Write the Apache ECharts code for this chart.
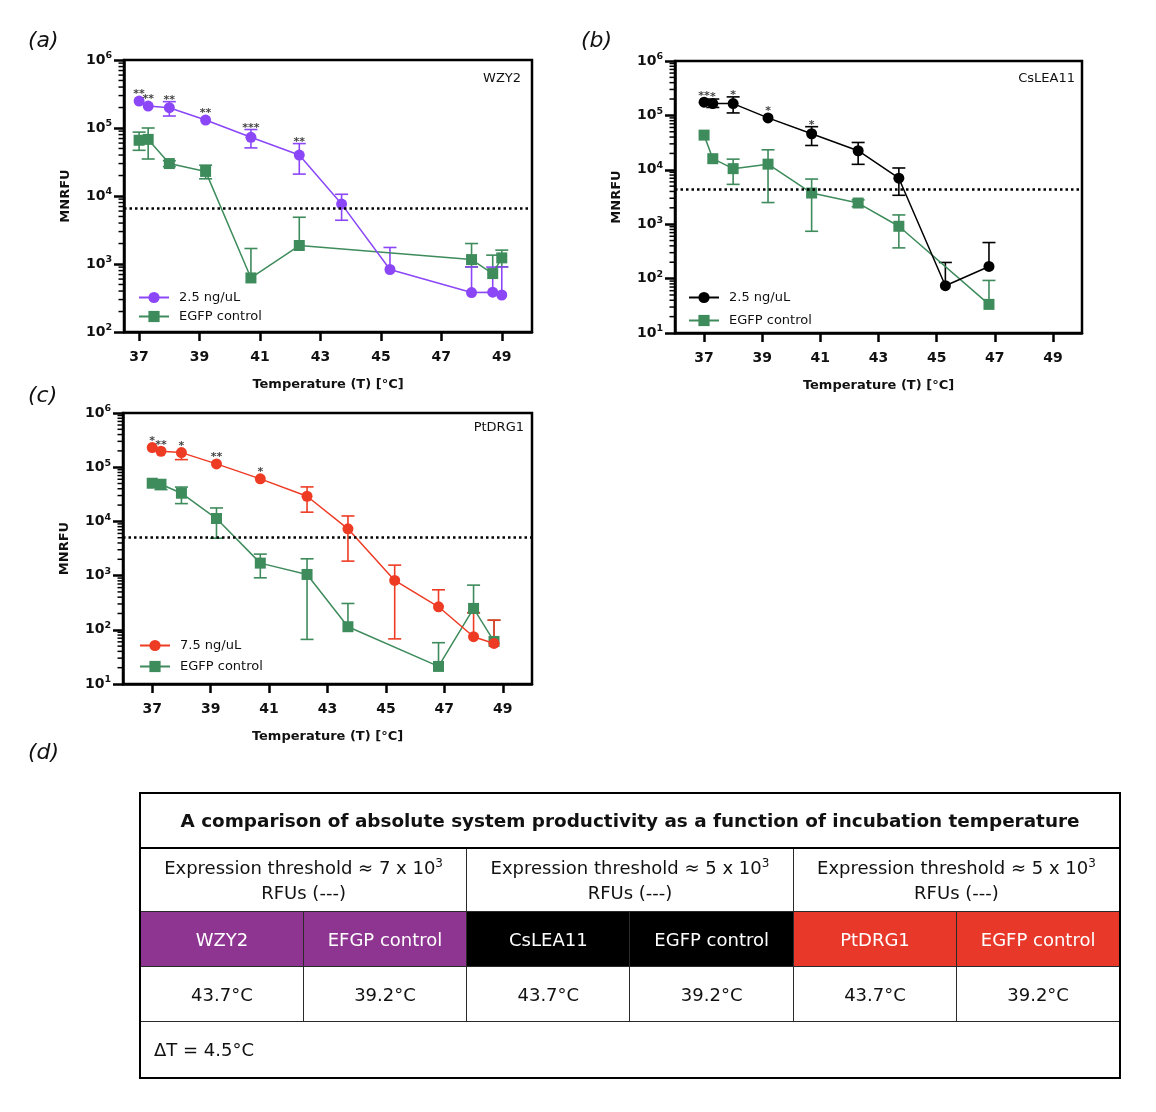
<!DOCTYPE html>
<html><head><meta charset="utf-8">
<script src="https://cdn.jsdelivr.net/npm/echarts@6/dist/echarts.min.js"></script>
<style>
html,body{margin:0;padding:0;background:#fff;}
#chart{position:absolute;left:0;top:0;width:1156px;height:1112px;}
#tbl{position:absolute;left:139px;top:792px;width:980px;border-collapse:collapse;table-layout:fixed;font-family:'DejaVu Sans',Verdana,sans-serif;color:#111;}
#tbl td{border:1.5px solid #2a2a2a;text-align:center;padding:0;font-size:18px;}
#tbl tr.r1 td{height:53px;font-weight:bold;font-size:18.4px;border:2px solid #000;}
#tbl tr.r2 td{height:62px;line-height:25px;}
#tbl tr.r3 td{height:54px;color:#fff;}
#tbl tr.r4 td{height:54px;}
#tbl tr.r5 td{height:55px;text-align:left;padding-left:13px;}
#tbl sup{font-size:12px;vertical-align:7px;line-height:0;}
#tbl{border:2px solid #000;}
</style></head><body>
<div id="chart"></div>
<table id="tbl"></table>
<script>
// ---------- data ----------
const xTicks = [37, 39, 41, 43, 45, 47, 49];

// (a) WZY2
const aTempMain = [37, 37.3, 38, 39.2, 40.7, 42.3, 43.7, 45.3, 48, 48.7, 49];
const aMain     = [2.49e5, 2.1e5, 1.99e5, 1.31e5, 7.3e4, 4.0e4, 7.6e3, 830, 380, 385, 350];
const aMainHi   = [null, null, 2.44e5, null, 9.5e4, 5.9e4, 1.06e4, 1750, 906, 900, 906];
const aMainLo   = [null, null, 1.5e5, null, 5.1e4, 2.1e4, 4.4e3, null, null, null, null];
const aStars    = ['**', '**', '**', '**', '***', '**'];
const aTempCtrl = [37, 37.3, 38, 39.2, 40.7, 42.3, 48, 48.7, 49];
const aCtrl     = [6.6e4, 6.8e4, 3.0e4, 2.3e4, 624, 1870, 1160, 723, 1230];
const aCtrlHi   = [8.7e4, 1.0e5, 3.3e4, 2.84e4, 1690, 4870, 2000, 1350, 1600];
const aCtrlLo   = [4.7e4, 3.5e4, 2.7e4, 1.79e4, null, null, 906, null, 906];
const aThreshold = 6700;

// (b) CsLEA11
const bTempMain = [37, 37.3, 38, 39.2, 40.7, 42.3, 43.7, 45.3, 46.8];
const bMain     = [1.75e5, 1.65e5, 1.65e5, 9.0e4, 4.6e4, 2.24e4, 7.0e3, 74, 167];
const bMainHi   = [null, 2.0e5, 2.19e5, null, 6.2e4, 3.18e4, 1.08e4, 198, 460];
const bMainLo   = [null, 1.4e5, 1.11e5, null, 2.8e4, 1.26e4, 3.4e3, null, null];
const bStars    = ['**', '*', '*', '*', '*'];
const bTempCtrl = [37, 37.3, 38, 39.2, 40.7, 42.3, 43.7, 46.8];
const bCtrl     = [4.34e4, 1.6e4, 1.05e4, 1.27e4, 3740, 2450, 916, 33.6];
const bCtrlHi   = [null, null, 1.57e4, 2.33e4, 6760, 2800, 1480, 92.5];
const bCtrlLo   = [null, null, 5400, 2500, 741, 2100, 367, null];
const bThreshold = 4400;

// (c) PtDRG1
const cTempMain = [37, 37.3, 38, 39.2, 40.7, 42.3, 43.7, 45.3, 46.8, 48, 48.7];
const cMain     = [2.3e5, 1.97e5, 1.86e5, 1.15e5, 6.1e4, 2.91e4, 7.3e3, 813, 266, 74.5, 56];
const cMainHi   = [null, null, null, null, null, 4.33e4, 1.26e4, 1560, 547, 207, 151];
const cMainLo   = [null, null, 1.38e5, null, null, 1.48e4, 1850, 68, null, null, null];
const cStars    = ['*', '**', '*', '**', '*'];
const cTempCtrl = [37, 37.3, 38, 39.2, 40.7, 42.3, 43.7, 46.8, 48, 48.7];
const cCtrl     = [5.06e4, 4.85e4, 3.31e4, 1.13e4, 1700, 1050, 114, 21.1, 248, 61];
const cCtrlHi   = [null, null, 4.3e4, 1.77e4, 2490, 2040, 306, 57.8, 667, 150];
const cCtrlLo   = [null, 3.86e4, 2.13e4, 4900, 910, 66.5, null, null, 206, null];
const cThreshold = 5200;

// table
const tableTitle = 'A comparison of absolute system productivity as a function of incubation temperature';
const tableThresholds = ['7', '5', '5'];
const tableHeaders = ['WZY2', 'EFGP control', 'CsLEA11', 'EGFP control', 'PtDRG1', 'EGFP control'];
const tableValues = ['43.7°C', '39.2°C', '43.7°C', '39.2°C', '43.7°C', '39.2°C'];
const tableDelta = 'ΔT = 4.5°C';

// ---------- styles ----------
const FONT = 'DejaVu Sans';
const GREEN = '#3E8B5C', PURPLE = '#8B46F7', RED = '#EE3B24', BLACK = '#000000';
const HEAD_COLORS = ['#8E3592', '#8E3592', '#000000', '#000000', '#E8382A', '#E8382A'];

const panels = [
  {key: 'a', title: 'WZY2', mainName: '2.5 ng/uL', color: PURPLE,
   grid: {left: 124, top: 60, width: 408, height: 272}, xMin: 36.5, yMin: 100,
   tMain: aTempMain, main: aMain, mainHi: aMainHi, mainLo: aMainLo, stars: aStars,
   tCtrl: aTempCtrl, ctrl: aCtrl, ctrlHi: aCtrlHi, ctrlLo: aCtrlLo, thr: aThreshold,
   legend: {left: 133, top: 286, itemGap: 6}, titlePos: {right: 635, top: 72}},
  {key: 'b', title: 'CsLEA11', mainName: '2.5 ng/uL', color: BLACK,
   grid: {left: 675, top: 61, width: 407, height: 272}, xMin: 36, yMin: 10,
   tMain: bTempMain, main: bMain, mainHi: bMainHi, mainLo: bMainLo, stars: bStars,
   tCtrl: bTempCtrl, ctrl: bCtrl, ctrlHi: bCtrlHi, ctrlLo: bCtrlLo, thr: bThreshold,
   legend: {left: 683, top: 286, itemGap: 10}, titlePos: {right: 81, top: 72}},
  {key: 'c', title: 'PtDRG1', mainName: '7.5 ng/uL', color: RED,
   grid: {left: 123, top: 413, width: 409, height: 271}, xMin: 36, yMin: 10,
   tMain: cTempMain, main: cMain, mainHi: cMainHi, mainLo: cMainLo, stars: cStars,
   tCtrl: cTempCtrl, ctrl: cCtrl, ctrlHi: cCtrlHi, ctrlLo: cCtrlLo, thr: cThreshold,
   legend: {left: 134, top: 634, itemGap: 8}, titlePos: {right: 632, top: 421}}
];

function errRender(color) {
  return function (params, api) {
    const x = api.value(0), y = api.value(1), lo = api.value(2), hi = api.value(3);
    const pc = api.coord([x, y]);
    const style = {stroke: color, lineWidth: 1.6};
    const cap = 6.5;
    const ch = [];
    [hi, lo].forEach(function (v) {
      if (v === y) return;
      const p = api.coord([x, v]);
      ch.push({type: 'line', shape: {x1: pc[0], y1: pc[1], x2: p[0], y2: p[1]}, style: style});
      ch.push({type: 'line', shape: {x1: p[0] - cap, y1: p[1], x2: p[0] + cap, y2: p[1]}, style: style});
    });
    return {type: 'group', children: ch};
  };
}

function minorRender(params, api) {
  const p = api.coord([api.value(0), api.value(1)]);
  return {type: 'line', shape: {x1: p[0] - 5.5, y1: p[1], x2: p[0], y2: p[1]},
          style: {stroke: '#000', lineWidth: 1.5}};
}

const option = {
  backgroundColor: '#fff',
  animation: false,
  title: [], grid: [], xAxis: [], yAxis: [], legend: [], series: []
};

[['(a)', 28, 30], ['(b)', 581, 30], ['(c)', 28, 385], ['(d)', 28, 742]].forEach(function (t) {
  option.title.push({text: t[0], left: t[1], top: t[2], padding: 0,
    textStyle: {fontFamily: FONT, fontStyle: 'italic', fontWeight: 'normal', fontSize: 22, color: '#111'}});
});

panels.forEach(function (p, i) {
  option.title.push({text: p.title, right: p.titlePos.right, top: p.titlePos.top, padding: 0,
    textStyle: {fontFamily: FONT, fontWeight: 'normal', fontSize: 13, color: '#111'}});
  option.grid.push(Object.assign({show: true, borderColor: '#000', borderWidth: 2.5, backgroundColor: 'transparent'}, p.grid));
  option.xAxis.push({
    type: 'value', gridIndex: i, min: p.xMin, max: 50,
    name: 'Temperature (T) [°C]', nameLocation: 'middle', nameGap: 46,
    nameTextStyle: {fontFamily: FONT, fontWeight: 'bold', fontSize: 13, color: '#111'},
    axisLine: {show: true, lineStyle: {color: '#000', width: 2.5}},
    axisTick: {show: true, customValues: xTicks, length: 9, lineStyle: {color: '#000', width: 2.5}},
    axisLabel: {show: true, customValues: xTicks, margin: 18, fontFamily: FONT, fontWeight: 'bold', fontSize: 14, color: '#111'},
    splitLine: {show: false}
  });
  option.yAxis.push({
    type: 'log', logBase: 10, gridIndex: i, min: p.yMin, max: 1e6,
    name: 'MNRFU', nameLocation: 'middle', nameGap: 52,
    nameTextStyle: {fontFamily: FONT, fontWeight: 'bold', fontSize: 13, color: '#111'},
    axisLine: {show: true, lineStyle: {color: '#000', width: 2.5}},
    axisTick: {show: true, length: 10, lineStyle: {color: '#000', width: 2.5}},
    minorTick: {show: false},
    axisLabel: {
      margin: 12,
      formatter: function (v) { return '{n|10}{s|' + Math.round(Math.log10(v)) + '}'; },
      rich: {
        n: {fontFamily: FONT, fontWeight: 'bold', fontSize: 14, color: '#111'},
        s: {fontFamily: FONT, fontWeight: 'bold', fontSize: 9.5, color: '#111', padding: [0, 0, 8, 0]}
      }
    },
    splitLine: {show: false}
  });

  // minor log ticks
  const minor = [];
  for (let e = Math.round(Math.log10(p.yMin)); e < 6; e++) {
    for (let m = 2; m <= 9; m++) minor.push([p.xMin, m * Math.pow(10, e)]);
  }
  option.series.push({type: 'custom', name: p.key + ':minor', xAxisIndex: i, yAxisIndex: i,
    renderItem: minorRender, data: minor, clip: false, silent: true, z: 1, encode: {x: 0, y: 1}});

  function errData(ts, ys, hi, lo) {
    return ts.map(function (t, k) { return [t, ys[k], lo[k] == null ? ys[k] : lo[k], hi[k] == null ? ys[k] : hi[k]]; });
  }
  option.series.push({type: 'custom', name: p.key + ':errCtrl', xAxisIndex: i, yAxisIndex: i,
    renderItem: errRender(GREEN), data: errData(p.tCtrl, p.ctrl, p.ctrlHi, p.ctrlLo), silent: true, z: 2, encode: {x: 0, y: 1}});
  option.series.push({type: 'custom', name: p.key + ':errMain', xAxisIndex: i, yAxisIndex: i,
    renderItem: errRender(p.color), data: errData(p.tMain, p.main, p.mainHi, p.mainLo), silent: true, z: 2, encode: {x: 0, y: 1}});

  option.series.push({type: 'line', name: p.key + ':EGFP control', xAxisIndex: i, yAxisIndex: i,
    data: p.tCtrl.map(function (t, k) { return [t, p.ctrl[k]]; }),
    symbol: 'rect', symbolSize: 11, itemStyle: {color: GREEN}, lineStyle: {color: GREEN, width: 1.5}, z: 3});
  option.series.push({type: 'line', name: p.key + ':' + p.mainName, xAxisIndex: i, yAxisIndex: i,
    data: p.tMain.map(function (t, k) { return [t, p.main[k]]; }),
    symbol: 'circle', symbolSize: 11, itemStyle: {color: p.color}, lineStyle: {color: p.color, width: 1.5}, z: 4,
    markLine: {silent: true, symbol: ['none', 'none'], label: {show: false},
      lineStyle: {color: '#000', width: 2.5, type: [2.5, 3]}, data: [{yAxis: p.thr}]}});

  // significance stars
  option.series.push({type: 'scatter', name: p.key + ':stars', xAxisIndex: i, yAxisIndex: i,
    symbolSize: 1, itemStyle: {color: 'rgba(0,0,0,0)'}, silent: true, z: 5,
    data: p.stars.map(function (s, k) {
      const hasHi = p.mainHi[k] != null;
      return {value: [p.tMain[k], hasHi ? p.mainHi[k] : p.main[k]], star: s,
        label: {distance: hasHi ? 0 : 5}};
    }),
    label: {show: true, position: 'top', offset: [0, 4], formatter: function (d) { return d.data.star; },
      fontFamily: FONT, fontSize: 11, fontWeight: 'bold', color: '#111', lineHeight: 10}});

  option.legend.push({
    left: p.legend.left, top: p.legend.top, orient: 'vertical', itemGap: p.legend.itemGap,
    itemWidth: 30, itemHeight: 14, selectedMode: false,
    data: [p.key + ':' + p.mainName, p.key + ':EGFP control'],
    formatter: function (n) { return n.slice(2); },
    textStyle: {fontFamily: FONT, fontSize: 13, color: '#111', padding: [0, 0, 0, 5]}
  });
});

const chart = echarts.init(document.getElementById('chart'), null, {renderer: 'canvas'});
chart.setOption(option);

// ---------- table ----------
const tbl = document.getElementById('tbl');
let html = '<colgroup>' + tableHeaders.map(function () { return '<col style="width:163.33px">'; }).join('') + '</colgroup>';
html += '<tr class="r1"><td colspan="6">' + tableTitle + '</td></tr>';
html += '<tr class="r2">' + tableThresholds.map(function (t) {
  return '<td colspan="2">Expression threshold ≈ ' + t + ' x 10<sup>3</sup><br>RFUs (---)</td>';
}).join('') + '</tr>';
html += '<tr class="r3">' + tableHeaders.map(function (h, k) {
  return '<td style="background:' + HEAD_COLORS[k] + '">' + h + '</td>';
}).join('') + '</tr>';
html += '<tr class="r4">' + tableValues.map(function (v) { return '<td>' + v + '</td>'; }).join('') + '</tr>';
html += '<tr class="r5"><td colspan="6">' + tableDelta + '</td></tr>';
tbl.innerHTML = html;
</script>
</body></html>
